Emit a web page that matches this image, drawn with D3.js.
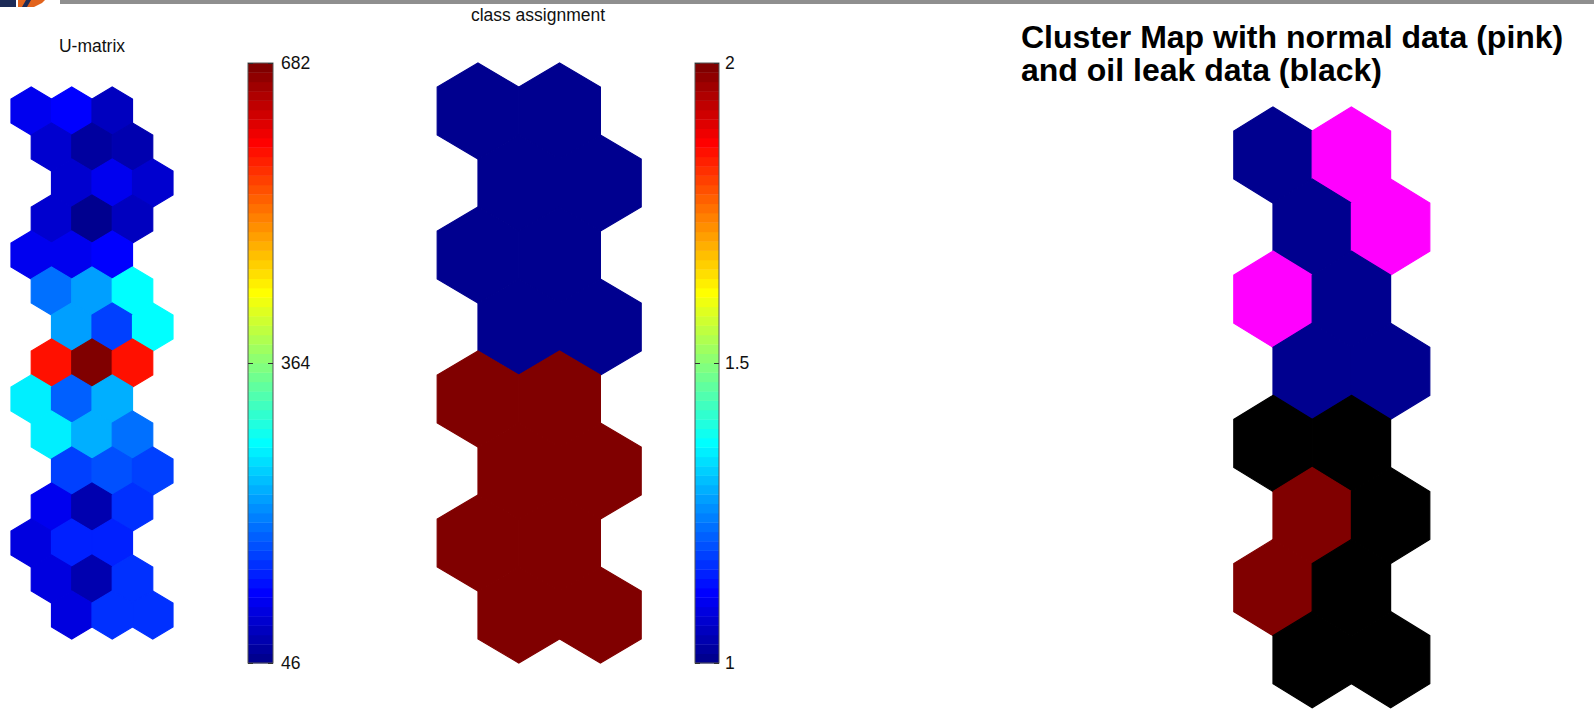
<!DOCTYPE html>
<html>
<head>
<meta charset="utf-8">
<script src="https://cdn.jsdelivr.net/npm/d3@7"></script>
<style>
  body { margin: 0; background: #fff; }
  svg { display: block; font-family: "Liberation Sans", Arial, sans-serif; }
</style>
</head>
<body>
<div id="chart"></div>
<script>
// U-matrix values, 15 rows x 3 columns, top row first
const umatRows = [
  [110, 116, 76],
  [91, 63, 71],
  [91, 111, 86],
  [94, 51, 81],
  [111, 115, 116],
  [195, 221, 275],
  [221, 163, 275],
  [592, 682, 592],
  [265, 185, 230],
  [265, 225, 192],
  [165, 167, 163],
  [106, 71, 155],
  [101, 136, 136],
  [101, 66, 155],
  [101, 155, 155]
];
const umatRange = [46, 682];
const umatTicks = [46, 364, 682];

// class assignment per map unit, 8 rows x 2 columns
const classRows = [[1, 1], [1, 1], [1, 1], [1, 1], [2, 2], [2, 2], [2, 2], [2, 2]];
const classRange = [1, 2];
const classTicks = [1, 1.5, 2];

// cluster map with data hits
const clusterRows = [
  ["class1", "normal"],
  ["class1", "normal"],
  ["normal", "class1"],
  ["class1", "class1"],
  ["leak", "leak"],
  ["class2", "leak"],
  ["class2", "leak"],
  ["leak", "leak"]
];
const clusterKeys = ["class1", "class2", "normal", "leak"];
const clusterColors = ["#00008f", "#800000", "#ff00ff", "#000000"];

const titles = ["U-matrix", "class assignment"];
const clusterTitle = ["Cluster Map with normal data (pink)", "and oil leak data (black)"];

// matlab jet colormap
function jet(m) {
  const n = Math.ceil(m / 4);
  const u = [];
  for (let i = 1; i <= n; i++) u.push(i / n);
  for (let i = 0; i < n - 1; i++) u.push(1);
  for (let i = n; i >= 1; i--) u.push(i / n);
  const off = Math.ceil(n / 2) - (m % 4 === 1 ? 1 : 0);
  const J = d3.range(m).map(() => [0, 0, 0]);
  u.forEach((v, i) => {
    const g = off + i + 1, r = g + n, b = g - n;
    if (g <= m) J[g - 1][1] = v;
    if (r <= m) J[r - 1][0] = v;
    if (b >= 1) J[b - 1][2] = v;
  });
  return J.map(c => d3.rgb(c[0] * 255, c[1] * 255, c[2] * 255).formatHex());
}
const jet64 = jet(64);

const W = 1594, H = 711;
const svg = d3.select("#chart").append("svg").attr("width", W).attr("height", H);

// header bar + logo corner
svg.append("rect").attr("x", 60).attr("y", 0).attr("width", W - 60).attr("height", 4).attr("fill", "#8f8f8f");
svg.append("rect").attr("x", 0).attr("y", 0).attr("width", 16).attr("height", 7).attr("fill", "#1d2b57");
svg.append("polygon").attr("points", "18,0 45,0 42,3 34,7 18,7").attr("fill", "#e2631c");
svg.append("polygon").attr("points", "26,0 31,0 27,7 22,7").attr("fill", "#1d2b57");

function hexPath(cx, cy, hw, r) {
  return d3.line()([[cx, cy - r], [cx + hw, cy - r / 2], [cx + hw, cy + r / 2],
    [cx, cy + r], [cx - hw, cy + r / 2], [cx - hw, cy - r / 2]]) + "Z";
}

function drawHexes(cells, x, y, color) {
  const hw = x(1) - x(0);
  const r = (y(1) - y(0)) / 1.5;
  svg.append("g").selectAll("path")
    .data(cells)
    .join("path")
    .attr("d", d => hexPath(x(d.h), y(d.r), hw, r))
    .attr("fill", d => color(d.v))
    .attr("stroke", d => color(d.v))
    .attr("stroke-width", 1.2)
    .attr("stroke-linejoin", "miter");
}

function drawColorbar(x0, x1, y, color, ticks, pad) {
  const dom = y.domain();
  const n = color.range().length;
  const step = (dom[1] - dom[0]) / n;
  const g = svg.append("g");
  g.selectAll("rect")
    .data(color.range())
    .join("rect")
    .attr("x", x0)
    .attr("width", x1 - x0)
    .attr("y", (c, i) => y(dom[0] + (i + 1) * step))
    .attr("height", (c, i) => y(dom[0] + i * step) - y(dom[0] + (i + 1) * step) + 0.4)
    .attr("fill", c => c);
  g.append("rect")
    .attr("x", x0).attr("y", y(dom[1]))
    .attr("width", x1 - x0).attr("height", y(dom[0]) - y(dom[1]))
    .attr("fill", "none").attr("stroke", "#555").attr("stroke-width", 1);

  const right = svg.append("g").attr("transform", `translate(${x1},0)`)
    .call(d3.axisRight(y).tickValues(ticks).tickSize(-5).tickPadding(pad).tickFormat(d => String(d)));
  const left = svg.append("g").attr("transform", `translate(${x0},0)`)
    .call(d3.axisLeft(y).tickValues(ticks).tickSize(-5).tickFormat(""));
  [right, left].forEach(a => {
    a.select(".domain").remove();
    a.selectAll(".tick line").attr("stroke", "#333");
  });
  right.selectAll("text").attr("font-size", 17.5).attr("fill", "#111")
    .attr("font-family", "Liberation Sans, Arial, sans-serif");
}

// ---- U-matrix ----
const umatCells = umatRows.flatMap((row, r) => row.map((v, c) => ({
  r, v, h: 2 * c + (r % 2 ? 1 : ((r / 2) % 2) * 2)
})));
const ux = d3.scaleLinear().domain([0, 1]).range([31.25, 51.5]);
const uy = d3.scaleLinear().domain([0, 1]).range([111, 147]);
const ucolor = d3.scaleQuantize().domain(umatRange).range(jet64);
drawHexes(umatCells, ux, uy, ucolor);
drawColorbar(248, 273, d3.scaleLinear().domain(umatRange).range([663, 63]), ucolor, umatTicks, 8);

svg.append("text").attr("x", 92).attr("y", 52).attr("text-anchor", "middle")
  .attr("font-size", 17.5).attr("fill", "#111").text(titles[0]);

// ---- class assignment ----
const classCells = classRows.flatMap((row, r) => row.map((v, c) => ({ r, v, h: 2 * c + (r % 2) })));
const cx = d3.scaleLinear().domain([0, 1]).range([478, 518.8]);
const cy = d3.scaleLinear().domain([0, 1]).range([111, 183]);
const ccolor = d3.scaleQuantize().domain(classRange).range(jet64);
drawHexes(classCells, cx, cy, ccolor);
drawColorbar(695, 719, d3.scaleLinear().domain(classRange).range([663, 63]), ccolor, classTicks, 6);

svg.append("text").attr("x", 538).attr("y", 21).attr("text-anchor", "middle")
  .attr("font-size", 17.5).attr("fill", "#111").text(titles[1]);

// ---- cluster map ----
const clusterCells = clusterRows.flatMap((row, r) => row.map((v, c) => ({ r, v, h: 2 * c + (r % 2) })));
const kx = d3.scaleLinear().domain([0, 1]).range([1273, 1312.2]);
const ky = d3.scaleLinear().domain([0, 1]).range([155, 227.1]);
const kcolor = d3.scaleOrdinal().domain(clusterKeys).range(clusterColors);
drawHexes(clusterCells, kx, ky, kcolor);

svg.append("text").attr("x", 1021).attr("y", 48)
  .attr("font-size", 32).attr("font-weight", "bold").attr("fill", "#000")
  .selectAll("tspan").data(clusterTitle).join("tspan")
  .attr("x", 1021).attr("dy", (d, i) => i ? 33 : 0).text(d => d);
</script>
</body>
</html>
